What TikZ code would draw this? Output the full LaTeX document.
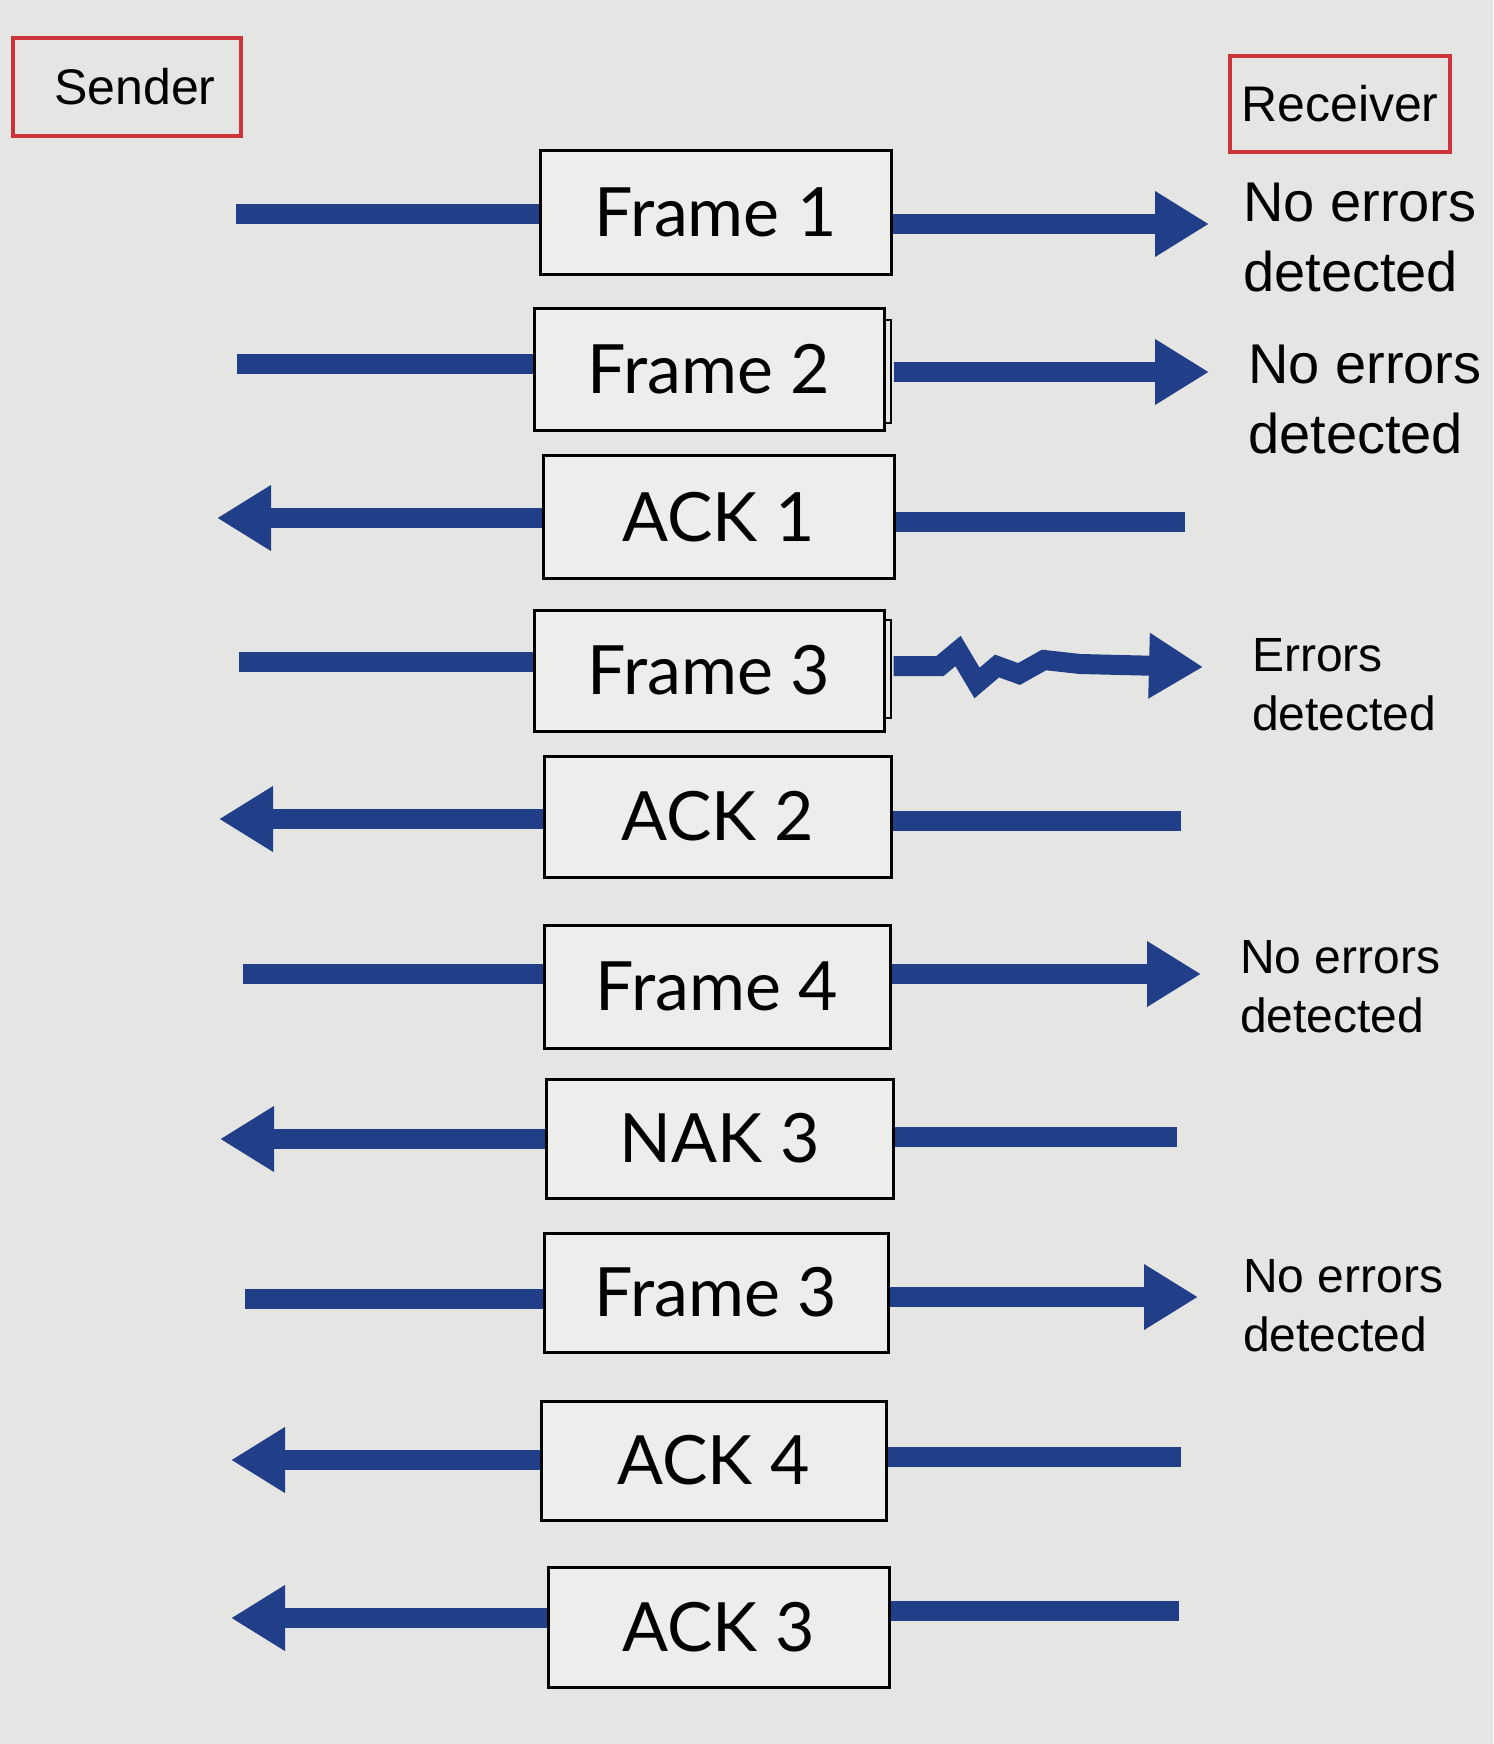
\documentclass[tikz,border=0pt]{standalone}
\usepackage{fontspec}
\setmainfont{Liberation Sans}
\newfontfamily\gill{Lato}
\usetikzlibrary{arrows.meta,backgrounds}
\definecolor{bg}{RGB}{229,229,227}
\definecolor{boxfill}{RGB}{237,237,235}
\definecolor{arrblue}{RGB}{33,63,137}
\definecolor{redbox}{RGB}{204,52,58}
\begin{document}
\begin{tikzpicture}[x=1pt,y=-1pt,
  fbox/.style={draw=black, line width=3pt, fill=boxfill, inner sep=0pt,
               font=\gill\fontsize{68}{80}\selectfont},
  rbox/.style={draw=redbox, line width=4.5pt, inner sep=0pt,
               font=\fontsize{50}{60}\selectfont},
  sig/.style={draw=arrblue, line width=20pt},
  tipr/.style={-{Triangle[length=54pt,width=62pt]}},
  lab/.style={anchor=base west, inner sep=0pt, align=left},
  labbig/.style={lab, font=\fontsize{56}{70}\selectfont},
  labsmall/.style={lab, font=\fontsize{48}{59}\selectfont},
  stub/.style={draw=black, line width=2pt}
]
\useasboundingbox (0,0) rectangle (1493,1744);

% end boxes
\node[rbox, minimum width=228pt, minimum height=98pt] (snd) at (127,87) {\hspace*{16pt}Sender};
\node[rbox, minimum width=220pt, minimum height=96pt] (rcv) at (1340,104) {Receiver};

% message boxes
\node[fbox, minimum width=351pt, minimum height=123pt] (f1) at (715.5,212.5) {Frame 1};
\node[fbox, minimum width=350pt, minimum height=122pt] (f2) at (709,369) {Frame 2};
\node[fbox, minimum width=351pt, minimum height=123pt] (f3) at (718.5,517) {ACK 1};
\node[fbox, minimum width=350pt, minimum height=121pt] (f4) at (709,670.5) {Frame 3};
\node[fbox, minimum width=347pt, minimum height=121pt] (f5) at (717.5,816.5) {ACK 2};
\node[fbox, minimum width=346pt, minimum height=123pt] (f6) at (717,986.5) {Frame 4};
\node[fbox, minimum width=347pt, minimum height=119pt] (f7) at (719.5,1138.5) {NAK 3};
\node[fbox, minimum width=344pt, minimum height=119pt] (f8) at (716,1292.5) {Frame 3};
\node[fbox, minimum width=345pt, minimum height=119pt] (f9) at (713.5,1460.5) {ACK 4};
\node[fbox, minimum width=341pt, minimum height=120pt] (f10) at (718.5,1627) {ACK 3};

% small double edges on Frame 2 and Frame 3
\draw[stub] (884,320) -- (891,320) -- (891,423) -- (884,423);
\draw[stub] (884,620) -- (891,620) -- (891,718) -- (884,718);
\coordinate (f2e) at ([xshift=8pt]f2.east);
\coordinate (f4e) at ([xshift=8pt]f4.east);

% labels (anchor is the baseline of the last line)
\node[labbig] (t1) at (1243,291) {No errors\\detected};
\node[labbig] (t2) at (1248,453) {No errors\\detected};
\node[labsmall] (t4) at (1252,730) {Errors\\detected};
\node[labsmall] (t6) at (1240,1032) {No errors\\detected};
\node[labsmall] (t8) at (1243,1351) {No errors\\detected};

\begin{scope}[on background layer]
\fill[bg] (0,0) rectangle (1493,1744);
% row 1
\coordinate (a1) at (236,214);  \coordinate (b1) at (1209,224);
\draw[sig] (a1) -- (f1.west |- a1);
\draw[sig,tipr] (f1.east |- b1) -- (b1);
% row 2
\coordinate (a2) at (237,364);  \coordinate (b2) at (1209,372);
\draw[sig] (a2) -- (f2.west |- a2);
\draw[sig,tipr] (f2e |- b2) -- (b2);
% row 3
\coordinate (a3) at (217,518);  \coordinate (b3) at (1185,522);
\draw[sig,tipr] (f3.west |- a3) -- (a3);
\draw[sig] (f3.east |- b3) -- (b3);
% row 4 (corrupted frame)
\coordinate (a4) at (239,662);  \coordinate (z0) at (900,666); \coordinate (b4) at (1203,667);
\draw[sig] (a4) -- (f4.west |- a4);
\draw[sig,tipr,line join=miter] (f4e |- z0) -- (940,666) -- (958,651) -- (977,683)
   -- (997,666) -- (1019,674) -- (1044,660) -- (1080,664) -- (b4);
% row 5
\coordinate (a5) at (219,819);  \coordinate (b5) at (1181,821);
\draw[sig,tipr] (f5.west |- a5) -- (a5);
\draw[sig] (f5.east |- b5) -- (b5);
% row 6
\coordinate (a6) at (243,974);  \coordinate (b6) at (1201,974);
\draw[sig] (a6) -- (f6.west |- a6);
\draw[sig,tipr] (f6.east |- b6) -- (b6);
% row 7
\coordinate (a7) at (220,1139); \coordinate (b7) at (1177,1137);
\draw[sig,tipr] (f7.west |- a7) -- (a7);
\draw[sig] (f7.east |- b7) -- (b7);
% row 8
\coordinate (a8) at (245,1299); \coordinate (b8) at (1198,1297);
\draw[sig] (a8) -- (f8.west |- a8);
\draw[sig,tipr] (f8.east |- b8) -- (b8);
% row 9
\coordinate (a9) at (231,1460); \coordinate (b9) at (1181,1457);
\draw[sig,tipr] (f9.west |- a9) -- (a9);
\draw[sig] (f9.east |- b9) -- (b9);
% row 10
\coordinate (a10) at (231,1618); \coordinate (b10) at (1179,1611);
\draw[sig,tipr] (f10.west |- a10) -- (a10);
\draw[sig] (f10.east |- b10) -- (b10);
\end{scope}
\end{tikzpicture}
\end{document}
